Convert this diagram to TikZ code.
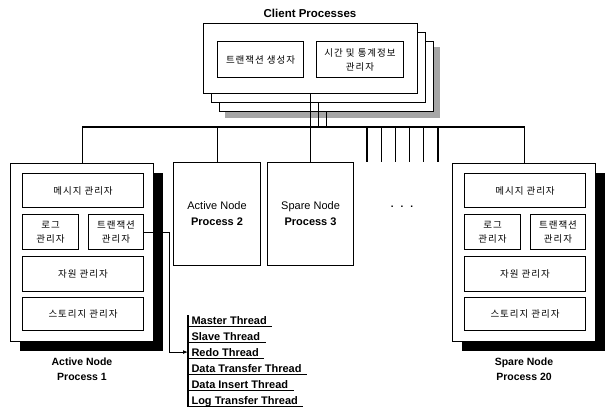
\documentclass[tikz,border=0pt]{standalone}
\usepackage{fontspec}
\setmainfont{Liberation Sans}
\newfontfamily\kr[LetterSpace=10]{Noto Sans CJK KR}
\usetikzlibrary{arrows.meta}

\begin{document}
\begin{tikzpicture}[x=1pt, y=-1pt, line width=1.1pt,
  box/.style={draw, fill=white, inner sep=0pt, anchor=north west},
  mgr/.style={box, align=center, font=\kr\fontsize{9.5}{14}\selectfont},
  proc/.style={box, align=center, font=\fontsize{11}{16}\selectfont},
  lbl/.style={align=center, font=\bfseries\fontsize{10.5}{15}\selectfont},
  thr/.style={anchor=base west, inner sep=0pt, font=\bfseries\fontsize{11}{12}\selectfont}]
\useasboundingbox (0,0) rectangle (606,412);
% client processes: three stacked boxes with a grey shadow
\fill[black!35] (225,47) rectangle (440,118);
\node[box, minimum width=214, minimum height=70] (cl3) at (219,41) {};
\node[box, minimum width=214, minimum height=70] (cl2) at (211,32) {};
\node[box, minimum width=214, minimum height=70] (cl1) at (203,23) {};
\node[font=\bfseries\fontsize{11.5}{13}\selectfont] (clt) at (310,13) {Client Processes};
\node[mgr, minimum width=86, minimum height=36] (gen) at (217,41) {트랜잭션 생성자};
\node[mgr, minimum width=87, minimum height=36] (stat) at (316,41) {시간 및 통계정보\\관리자};
% the two full node processes (1 and 20), black shadow behind
\foreach \dx/\n in {0/1, 442/20} {
  \fill ({20+\dx},173) rectangle ({163+\dx},351);
  \node[box, minimum width=143, minimum height=178] (p\n) at ({10+\dx},163) {};
  \node[mgr, minimum width=121, minimum height=34] (msg\n) at ({22+\dx},173) {메시지 관리자};
  \node[mgr, minimum width=56, minimum height=35] (log\n) at ({22+\dx},214) {로그\\관리자};
  \node[mgr, minimum width=55, minimum height=35] (tx\n) at ({88+\dx},214) {트랜잭션\\관리자};
  \node[mgr, minimum width=121, minimum height=35] (res\n) at ({22+\dx},256) {자원 관리자};
  \node[mgr, minimum width=121, minimum height=33] (sto\n) at ({22+\dx},297) {스토리지 관리자};
}
\node[lbl] (n1) at (82,369) {Active Node\\Process 1};
\node[lbl] (n20) at (524,369) {Spare Node\\Process 20};
% small processes
\node[proc, minimum width=87, minimum height=103] (p2) at (173,162) {Active Node\\\textbf{Process 2}};
\node[proc, minimum width=86, minimum height=103] (p3) at (267,162) {Spare Node\\\textbf{Process 3}};
\node[font=\bfseries] (more) at (402,207) {.\hspace{7pt}.\hspace{7pt}.};
% bus
\coordinate (bus) at (0,127);
\draw (p1.north) -- (p1.north |- bus) -| (p20.north);
\draw (p2.north) -- (p2.north |- bus);
\draw (cl1.south) -- (cl1.south |- p3.north);
\draw (cl2.south) -- (cl2.south |- bus);
\draw (cl3.south) -- (cl3.south |- bus);
\foreach \i in {0,...,5} {
  \coordinate (s\i) at ({367+14.2*\i},162);
  \draw (s\i |- bus) -- (s\i);
}
% threads
\foreach \t [count=\i] in {Master Thread, Slave Thread, Redo Thread,
    Data Transfer Thread, Data Insert Thread, Log Transfer Thread} {
  \node[thr] (t\i) at (191,{308+16*\i}) {\t};
  \draw ([shift={(-3pt,-2.5pt)}]t\i.base west) -- ([shift={(5pt,-2.5pt)}]t\i.base east);
}
\draw ([xshift=-3pt]t1.north west) -- ([shift={(-3pt,-2.5pt)}]t6.base west);
\draw[-{Latex[length=5pt,width=4pt]}] (tx1.east) -- ++(25,0) |- ([xshift=-3pt]t3.west);
\end{tikzpicture}
\end{document}
